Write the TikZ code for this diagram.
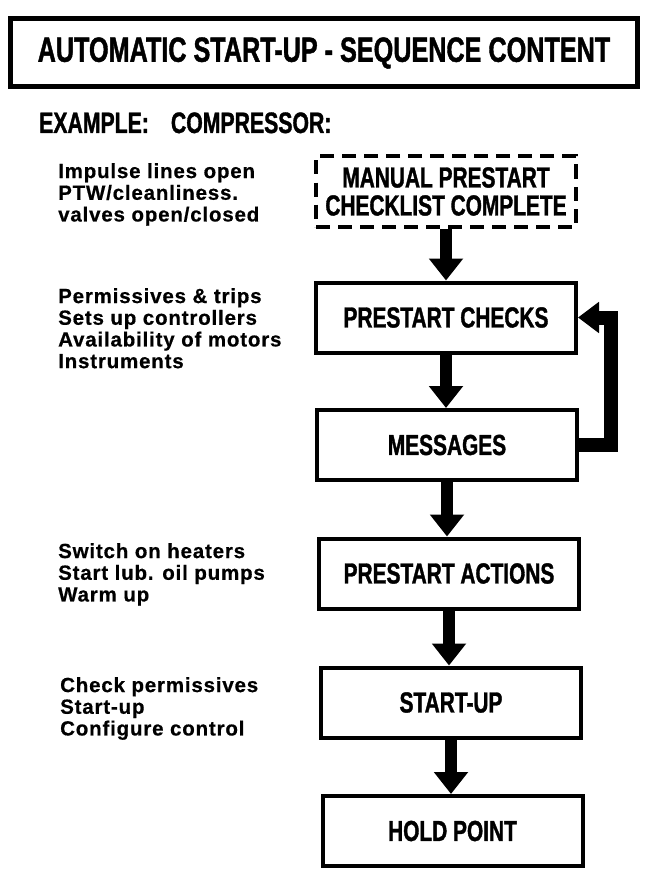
\documentclass[tikz,border=0pt]{standalone}
\usepackage{fontspec}
\setmainfont{Liberation Sans}
\newfontfamily\condf{Liberation Sans}[FakeStretch=0.72,FakeBold=1.2]
\newfontfamily\leftf{Liberation Sans}[LetterSpace=4,FakeBold=0.6]
\usetikzlibrary{arrows.meta}
\begin{document}
\begin{tikzpicture}[x=1pt,y=-1pt,
  box/.style={draw,line width=4pt,minimum width=260pt,minimum height=70pt,inner sep=0pt,
    font=\condf\bfseries\fontsize{29}{28}\selectfont,align=center},
  dbox/.style={box,dash pattern=on 14pt off 8pt},
  side/.style={anchor=north west,inner sep=0pt,align=left,
    font=\leftf\bfseries\fontsize{20.5}{21.7}\selectfont},
  flow/.style={line width=12pt,-{Triangle[width=33pt,length=22pt]}},
  fb/.style={line width=14pt,-{Triangle[width=30pt,length=21pt]}}]
\useasboundingbox (0,0) rectangle (645,869);
% title
\node[draw,line width=5pt,minimum width=627pt,minimum height=68pt,inner sep=0pt,
  font=\condf\bfseries\fontsize{35}{36}\selectfont] (title) at (324,53)
  {AUTOMATIC START-UP - SEQUENCE CONTENT};
\node[anchor=base west,inner sep=0pt,font=\condf\bfseries\fontsize{29.5}{30}\selectfont]
  (example) at (39,133) {EXAMPLE:\hspace{22pt}COMPRESSOR:};
% boxes
\node[dbox] (manual) at (446,191.5) {MANUAL PRESTART\\CHECKLIST COMPLETE};
\node[box] (checks) at (446,317.5) {PRESTART CHECKS};
\node[box] (messages) at (447,445) {MESSAGES};
\node[box] (actions) at (449,573.5) {PRESTART ACTIONS};
\node[box] (startup) at (451,702.5) {START-UP};
\node[box] (hold) at (452.5,831) {HOLD POINT};
% side texts
\node[side] (t1) at (58,163) {Impulse lines open\\PTW/cleanliness.\\valves open/closed};
\node[side] (t2) at (58,288) {Permissives \& trips\\Sets up controllers\\Availability of motors\\Instruments};
\node[side] (t3) at (58,543) {Switch on heaters\\Start lub. oil pumps\\Warm up};
\node[side] (t4) at (60,677) {Check permissives\\Start-up\\Configure control};
% connectors
\draw[flow] (manual.south) -- (manual.south |- checks.north);
\draw[flow] (checks.south) -- (checks.south |- messages.north);
\draw[flow] (messages.south) -- (messages.south |- actions.north);
\draw[flow] (actions.south) -- (actions.south |- startup.north);
\draw[flow] (startup.south) -- (startup.south |- hold.north);
\draw[fb] (messages.east) -- ++(32,0) |- (checks.east);
\end{tikzpicture}
\end{document}
